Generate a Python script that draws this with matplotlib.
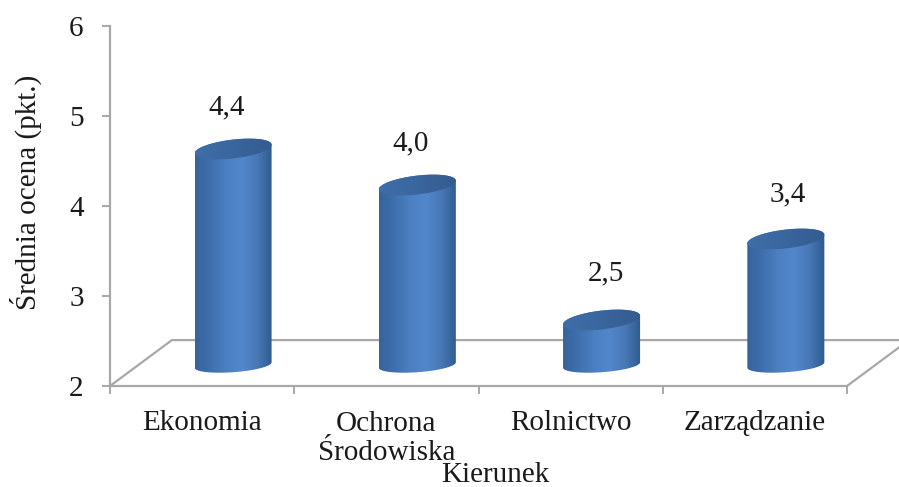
import numpy as np
import matplotlib
matplotlib.use('Agg')
import matplotlib.pyplot as plt
from matplotlib.colors import LinearSegmentedColormap
from matplotlib.patches import Polygon

plt.rcParams['font.family'] = ['Liberation Serif', 'DejaVu Serif']

kierunki = ['Ekonomia', 'Ochrona\nŚrodowiska', 'Rolnictwo', 'Zarządzanie']
oceny = [4.4, 4.0, 2.5, 3.4]
etykiety = ['4,4', '4,0', '2,5', '3,4']
y_ticks = [2, 3, 4, 5, 6]

# pixel nudges of the value labels
label_dx = [-6, -7, 4, 2]
label_dy = [42, 42, 47, 45]

SZARY = '#a8a8a8'
TEKST = '#1a1a1a'
FONT = 21
GLEB_X, GLEB_Y = 0.336, 0.51   # depth of the 3D floor
POL_SZER = 0.209               # half width of a cylinder
# ellipses: the top one is seen more open than the bottom one
GORA_PRZECH, GORA_WYS = 0.048, 0.105
DOL_PRZECH, DOL_WYS = 0.03, 0.08

korpus = LinearSegmentedColormap.from_list('korpus', ['#35639c', '#3f70ae', '#4c80c2', '#5387cd', '#4878b6', '#2f5b8e'])
wieko = LinearSegmentedColormap.from_list('wieko', ['#3f6ea8', '#3a669e', '#335b8e'])

fig = plt.figure(figsize=(8.99, 4.87), dpi=100)
ax = fig.add_axes([110 / 899, 1 - 386 / 487, 737 / 899, 360 / 487])


def gradient(sciezka, cmap, x0, x1, y0, y1):
    im = ax.imshow(np.linspace(0, 1, 128).reshape(1, -1), cmap=cmap, aspect='auto',
                   extent=(x0, x1, y0, y1), zorder=3, interpolation='bilinear')
    im.set_clip_path(Polygon(sciezka, closed=True, transform=ax.transData))


# floor of the 3D box
ax.plot([0, GLEB_X, 4 + GLEB_X, 4], [2, 2 + GLEB_Y, 2 + GLEB_Y, 2], color=SZARY, lw=1.6,
        clip_on=False, zorder=1, solid_joinstyle='miter')

t = np.linspace(0, 2 * np.pi, 121)
for i, v in enumerate(oceny):
    cx = i + 0.5 + GLEB_X / 2
    dol = 2 + GLEB_Y / 2 - 0.022
    gora = dol + (v - 2)
    ex = cx + POL_SZER * np.cos(t)
    ey = GORA_PRZECH * np.cos(t) + GORA_WYS * np.sin(t)
    # lower half of the bottom ellipse, then upper half of the top one
    dolna = t[60:121]
    bx = cx + POL_SZER * np.cos(dolna)
    by = dol + DOL_PRZECH * np.cos(dolna) + DOL_WYS * np.sin(dolna)
    gorna = t[0:61]
    tx = cx + POL_SZER * np.cos(gorna)
    ty = gora + GORA_PRZECH * np.cos(gorna) + GORA_WYS * np.sin(gorna)
    sciezka = np.column_stack([np.r_[bx, tx], np.r_[by, ty]])
    gradient(sciezka, korpus, cx - POL_SZER, cx + POL_SZER, dol - 0.2, gora + 0.2)
    gradient(np.column_stack([ex, gora + ey]), wieko, cx - POL_SZER, cx + POL_SZER, gora - 0.2, gora + 0.2)
    ax.annotate(etykiety[i], (cx, gora), xytext=(label_dx[i] * 0.72, label_dy[i] * 0.72),
                textcoords='offset points', ha='center', va='center', fontsize=FONT, color=TEKST)

ax.set_xlim(0, 4)
ax.set_ylim(2, 6)
ax.set_yticks(y_ticks)
ax.set_xticks(range(5))
ax.set_xticklabels([])
ax.tick_params(axis='both', which='major', length=6, width=1.4, color=SZARY, labelcolor=TEKST, labelsize=FONT)
ax.tick_params(axis='y', pad=13)

# category names sit on a common baseline, a two line one hangs below it
for i, nazwa in enumerate(kierunki):
    linie = nazwa.count('\n')
    ax.annotate(nazwa, (i + 0.5, 0), xycoords=ax.get_xaxis_transform(),
                xytext=(0, -(44 + 30 * linie) * 0.72), textcoords='offset points',
                ha='center', va='baseline', multialignment='center', linespacing=1.14,
                fontsize=FONT, color=TEKST, annotation_clip=False)

for s in ['top', 'right']:
    ax.spines[s].set_visible(False)
for s in ['left', 'bottom']:
    ax.spines[s].set_color(SZARY)
    ax.spines[s].set_linewidth(1.6)
ax.patch.set_alpha(0)

fig.text(495 / 899, 1 - 475 / 487, 'Kierunek', ha='center', va='center', fontsize=FONT, color=TEKST)
fig.text(26 / 899, 1 - 192 / 487, 'Średnia ocena (pkt.)', rotation=90, ha='center', va='center',
         fontsize=FONT, color=TEKST)

fig.savefig('out.png', dpi=100)
